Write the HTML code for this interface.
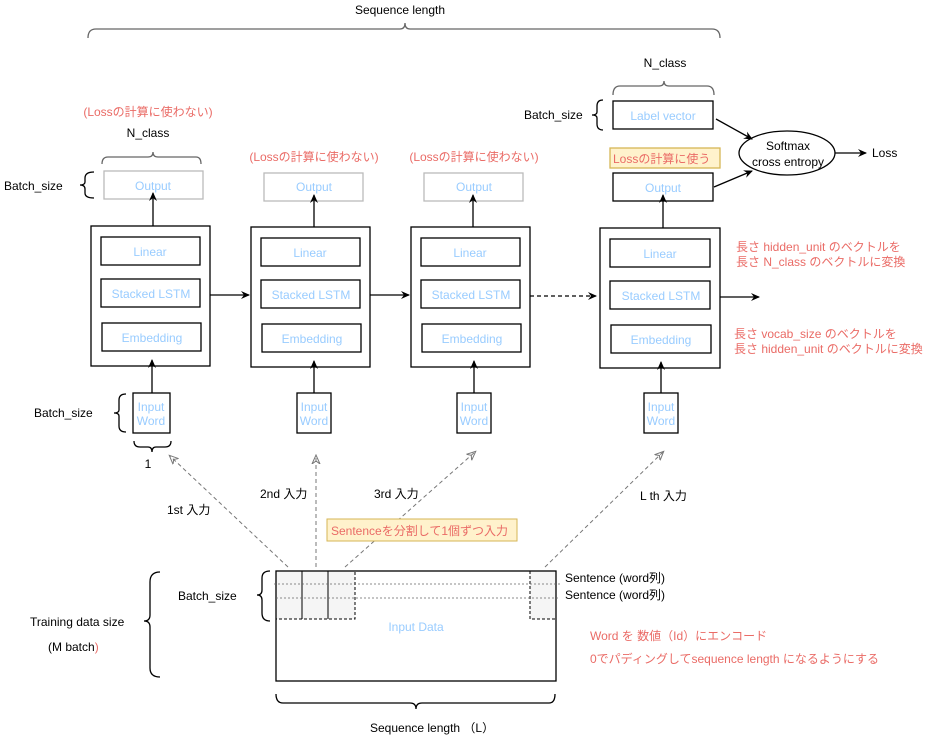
<!DOCTYPE html>
<html><head><meta charset="utf-8"><style>
body{margin:0;background:#fff}
text{font-family:"Liberation Sans","Noto Sans CJK JP",sans-serif;font-size:12px}
.b{fill:#99ccff;text-anchor:middle}
.r{fill:#ea6b66}
.k{fill:#000}
</style></head><body>
<svg width="933" height="740" xmlns="http://www.w3.org/2000/svg">
<defs><marker id="a" markerWidth="10" markerHeight="10" refX="8" refY="5" orient="auto" markerUnits="userSpaceOnUse"><path d="M0,1 L9,5 L0,9 L3,5z" fill="#000"/></marker>
<marker id="g" markerWidth="10" markerHeight="10" refX="8" refY="5" orient="auto" markerUnits="userSpaceOnUse"><path d="M0,1 L9,5 L0,9 L3,5z" fill="none" stroke="#777"/></marker></defs>
<g fill="none" stroke="#000" stroke-width="1.3">
<path d="M88,38 Q88,29 96,29 L400,29 Q405,29 405,23 Q405,29 410,29 L712,29 Q720,29 720,38" stroke="#666"/>
<rect x="91" y="226" width="119" height="140"/>
<rect x="101" y="237" width="99" height="28"/><rect x="101" y="279" width="99" height="28"/><rect x="102" y="323" width="99" height="28"/>
<rect x="104" y="171" width="99" height="28" stroke="#bbb"/>
<rect x="133" y="393" width="37" height="40"/>
<rect x="251" y="227" width="119" height="140"/>
<rect x="261" y="238" width="99" height="28"/><rect x="261" y="280" width="99" height="28"/><rect x="262" y="324" width="99" height="28"/>
<rect x="264" y="173" width="99" height="28" stroke="#bbb"/>
<rect x="297" y="393" width="34" height="40"/>
<rect x="411" y="227" width="119" height="140"/>
<rect x="421" y="238" width="99" height="28"/><rect x="421" y="280" width="99" height="28"/><rect x="422" y="324" width="99" height="28"/>
<rect x="424" y="173" width="99" height="28" stroke="#bbb"/>
<rect x="457" y="393" width="34" height="40"/>
<rect x="600" y="228" width="120" height="140"/>
<rect x="610" y="239" width="100" height="28"/><rect x="610" y="281" width="100" height="28"/><rect x="611" y="325" width="100" height="28"/>
<rect x="613" y="173" width="100" height="28"/>
<rect x="613" y="101" width="100" height="28"/>
<rect x="644" y="393" width="34" height="40"/>
<rect x="610" y="148" width="110" height="20" fill="#fff2cc" stroke="#d6b656"/>
<ellipse cx="787" cy="153" rx="48" ry="22"/>
<path d="M153,226V193" marker-end="url(#a)"/><path d="M152,393V360" marker-end="url(#a)"/>
<path d="M314,227V195" marker-end="url(#a)"/><path d="M314,393V361" marker-end="url(#a)"/>
<path d="M473,227V195" marker-end="url(#a)"/><path d="M474,393V361" marker-end="url(#a)"/>
<path d="M663,228V195" marker-end="url(#a)"/><path d="M661,393V362" marker-end="url(#a)"/>
<path d="M210,295H249" marker-end="url(#a)"/>
<path d="M370,295H409" marker-end="url(#a)"/>
<path d="M530,296H596" stroke-dasharray="4,3" marker-end="url(#a)"/>
<path d="M720,297H759" marker-end="url(#a)"/>
<path d="M716,119L752,139" marker-end="url(#a)"/>
<path d="M714,187L752,171" marker-end="url(#a)"/>
<path d="M835,153H866" marker-end="url(#a)"/>
<path d="M102,164 Q102,157 108,157 L148,157 Q153,157 153,152 Q153,157 158,157 L196,157 Q201,157 201,164" stroke="#666"/>
<path d="M613,95 Q613,86 620,86 L659,86 Q664,86 664,81 Q664,86 669,86 L707,86 Q714,86 714,95" stroke="#666"/>
<path d="M94,172 Q85,172 85,178 L85,182 Q85,185 80,185 Q85,185 85,189 L85,193 Q85,198 94,198"/>
<path d="M603,100 Q597,100 597,106 L597,112 Q597,115 592,115 Q597,115 597,118 L597,124 Q597,130 603,130"/>
<path d="M126,394 Q119,394 119,400 L119,410 Q119,413 114,413 Q119,413 119,416 L119,426 Q119,432 126,432"/>
<path d="M134,441 Q134,447 140,447 L148,447 Q152,447 152,452 Q152,447 156,447 L165,447 Q171,447 171,441"/>
<path d="M270,571 Q262,571 262,578 L262,590 Q262,595 257,595 Q262,595 262,600 L262,613 Q262,621 270,621"/>
<path d="M160,572 Q150,572 150,582 L150,615 Q150,621 144,621 Q150,621 150,627 L150,668 Q150,677 160,677"/>
<path d="M276,694 Q276,703 283,703 L410,703 Q416,703 416,709 Q416,703 422,703 L549,703 Q555,703 555,694"/>
<rect x="276" y="571" width="79" height="48" fill="#f5f5f5" stroke-dasharray="3,2" stroke-width="1"/>
<rect x="530" y="571" width="26" height="48" fill="#f5f5f5" stroke-dasharray="3,2" stroke-width="1"/>
<path d="M302,571V619M328,571V619" stroke-width="1"/>
<rect x="276" y="571" width="280" height="110"/>
<path d="M274,584H560M276,598H560" stroke="#666" stroke-width="0.8" stroke-dasharray="2,2"/>
<g stroke="#777" stroke-width="1" stroke-dasharray="4,3">
<path d="M288,567L170,456" marker-end="url(#g)"/>
<path d="M316,567V456" marker-end="url(#g)"/>
<path d="M345,567L475,452" marker-end="url(#g)"/>
<path d="M545,567L663,452" marker-end="url(#g)"/>
</g>
<rect x="327" y="519" width="190" height="22" fill="#fff2cc" stroke="#d6b656" stroke-width="1"/>
</g>
<text x="400" y="14" text-anchor="middle">Sequence length</text>
<text x="665" y="67" text-anchor="middle">N_class</text>
<text x="148" y="137" text-anchor="middle">N_class</text>
<text class="r" x="148" y="116" text-anchor="middle">(Lossの計算に使わない)</text>
<text class="r" x="314" y="161" text-anchor="middle">(Lossの計算に使わない)</text>
<text class="r" x="474" y="161" text-anchor="middle">(Lossの計算に使わない)</text>
<text class="r" x="613" y="163">Lossの計算に使う</text>
<text x="4" y="190">Batch_size</text>
<text x="524" y="119">Batch_size</text>
<text x="34" y="417">Batch_size</text>
<text x="178" y="600">Batch_size</text>
<text x="148" y="468" text-anchor="middle">1</text>
<text x="788" y="150" text-anchor="middle">Softmax</text>
<text x="788" y="166" text-anchor="middle">cross entropy</text>
<text x="872" y="157">Loss</text>
<g class="b">
<text x="153" y="190">Output</text><text x="314" y="191">Output</text><text x="474" y="191">Output</text><text x="663" y="192">Output</text>
<text x="663" y="120">Label vector</text>
<text x="150" y="256">Linear</text><text x="310" y="257">Linear</text><text x="470" y="257">Linear</text><text x="660" y="258">Linear</text>
<text x="151" y="298">Stacked LSTM</text><text x="311" y="299">Stacked LSTM</text><text x="471" y="299">Stacked LSTM</text><text x="661" y="300">Stacked LSTM</text>
<text x="152" y="342">Embedding</text><text x="312" y="343">Embedding</text><text x="472" y="343">Embedding</text><text x="661" y="344">Embedding</text>
<text x="151" y="411">Input</text><text x="151" y="425">Word</text>
<text x="314" y="411">Input</text><text x="314" y="425">Word</text>
<text x="474" y="411">Input</text><text x="474" y="425">Word</text>
<text x="661" y="411">Input</text><text x="661" y="425">Word</text>
<text x="416" y="631">Input Data</text>
</g>
<text class="r" x="736" y="251">長さ hidden_unit のベクトルを</text>
<text class="r" x="736" y="266">長さ N_class のベクトルに変換</text>
<text class="r" x="734" y="338">長さ vocab_size のベクトルを</text>
<text class="r" x="734" y="353">長さ hidden_unit のベクトルに変換</text>
<text x="167" y="514">1st 入力</text>
<text x="260" y="498">2nd 入力</text>
<text x="374" y="498">3rd 入力</text>
<text x="640" y="500">L th 入力</text>
<text class="r" x="331" y="535">Sentenceを分割して1個ずつ入力</text>
<text x="565" y="582">Sentence (word列)</text>
<text x="565" y="599">Sentence (word列)</text>
<text x="30" y="626">Training data size</text>
<text x="48" y="651">(M batch<tspan fill="#ea6b66">)</tspan></text>
<text class="r" x="590" y="640">Word を 数値（Id）にエンコード</text>
<text class="r" x="590" y="663">0でパディングしてsequence length になるようにする</text>
<text x="370" y="732">Sequence length （L）</text>
</svg>
</body></html>
